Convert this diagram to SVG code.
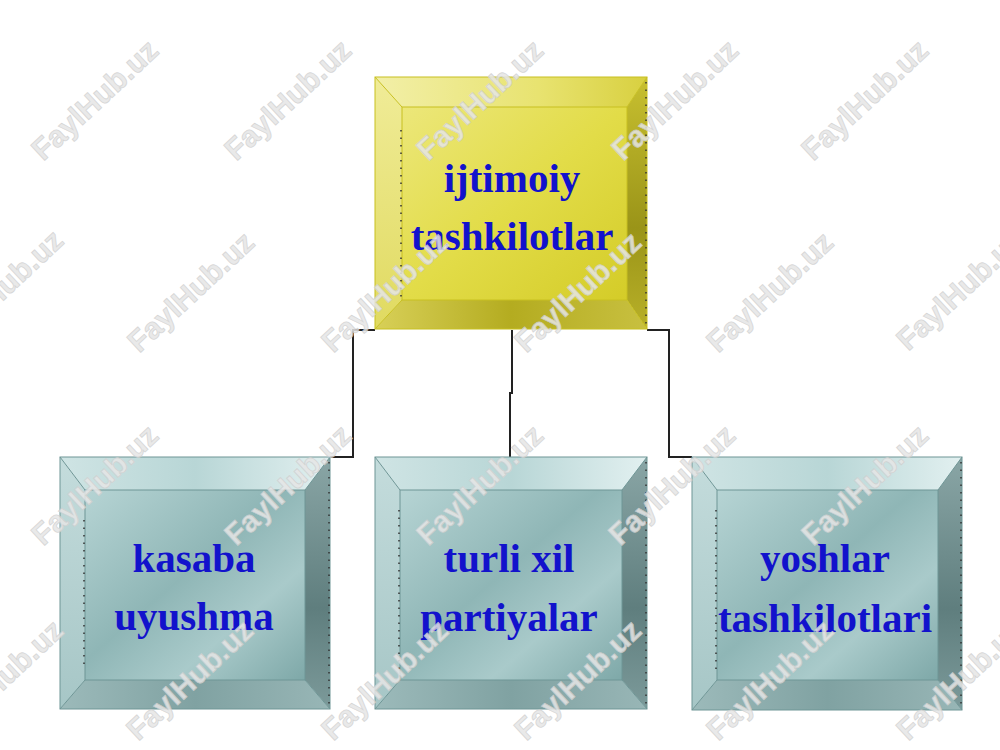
<svg xmlns="http://www.w3.org/2000/svg" width="1000" height="750" viewBox="0 0 1000 750">
<defs>
<linearGradient id="yFace" x1="0" y1="0" x2="1" y2="1">
<stop offset="0" stop-color="#ece77a"/><stop offset="0.5" stop-color="#e2dc48"/><stop offset="1" stop-color="#d4cc28"/>
</linearGradient>
<linearGradient id="yTop" x1="0" y1="0" x2="1" y2="0">
<stop offset="0" stop-color="#f2efa8"/><stop offset="0.6" stop-color="#e8e370"/><stop offset="1" stop-color="#d8d040"/>
</linearGradient>
<linearGradient id="yLeft" x1="0" y1="0" x2="0" y2="1">
<stop offset="0" stop-color="#f0ec98"/><stop offset="1" stop-color="#e0da60"/>
</linearGradient>
<linearGradient id="yRight" x1="0" y1="0" x2="0" y2="1">
<stop offset="0" stop-color="#c8c030"/><stop offset="0.6" stop-color="#9a9418"/><stop offset="1" stop-color="#b8b028"/>
</linearGradient>
<linearGradient id="yBottom" x1="0" y1="0" x2="1" y2="0">
<stop offset="0" stop-color="#d8d058"/><stop offset="0.5" stop-color="#b4ac20"/><stop offset="1" stop-color="#c8c040"/>
</linearGradient>
<linearGradient id="tFace" x1="0" y1="0" x2="1" y2="1">
<stop offset="0" stop-color="#b6d4d4"/><stop offset="0.45" stop-color="#8fb6b6"/><stop offset="0.7" stop-color="#a9caca"/><stop offset="1" stop-color="#7ea8a8"/>
</linearGradient>
<linearGradient id="tTop" x1="0" y1="0" x2="1" y2="0">
<stop offset="0" stop-color="#cfe4e4"/><stop offset="0.5" stop-color="#b8d6d6"/><stop offset="1" stop-color="#e2f0f0"/>
</linearGradient>
<linearGradient id="tLeft" x1="0" y1="0" x2="0" y2="1">
<stop offset="0" stop-color="#c4dcdc"/><stop offset="1" stop-color="#a6c6c6"/>
</linearGradient>
<linearGradient id="tRight" x1="0" y1="0" x2="0" y2="1">
<stop offset="0" stop-color="#8aa6a6"/><stop offset="0.6" stop-color="#5f7e7e"/><stop offset="1" stop-color="#7c9a9a"/>
</linearGradient>
<linearGradient id="tBottom" x1="0" y1="0" x2="1" y2="0">
<stop offset="0" stop-color="#9cbaba"/><stop offset="0.5" stop-color="#80a2a2"/><stop offset="1" stop-color="#98b6b6"/>
</linearGradient>
</defs>
<style>
.lbl{font-family:"Liberation Serif","Times New Roman",serif;font-weight:bold;font-size:41px;fill:#1212cc;text-anchor:middle}
.edgeY{stroke:#c8c020;stroke-width:1;fill:none}
.edgeT{stroke:#6f9696;stroke-width:1;fill:none}
.dots{stroke:#333;stroke-width:1.5;stroke-dasharray:1.5 6;fill:none}
.conn{stroke:#222;stroke-width:2;fill:none}
.wm{font-family:"Liberation Sans",Arial,sans-serif;font-weight:bold;font-size:30px;fill:#e6e6e6;stroke:#d0d0d0;stroke-width:0.8;text-anchor:middle;opacity:0.85}
</style>
<rect width="1000" height="750" fill="#ffffff"/>

<g id="connectors">
<polyline class="conn" points="375,330 353,330 353,457 330,457"/>
<polyline class="conn" points="512,330 512,393 510,393 510,457"/>
<polyline class="conn" points="647,330 669,330 669,457 692,457"/>
</g>

<g id="node-ijtimoiy">
<polygon points="375,77 647,77 627,107 402,107" fill="url(#yTop)"/>
<polygon points="375,77 402,107 402,300 375,329" fill="url(#yLeft)"/>
<polygon points="647,77 647,329 627,300 627,107" fill="url(#yRight)"/>
<polygon points="375,329 402,300 627,300 647,329" fill="url(#yBottom)"/>
<rect x="402" y="107" width="225" height="193" fill="url(#yFace)"/>
<rect class="edgeY" x="375" y="77" width="272" height="252"/>
<rect class="edgeY" x="402" y="107" width="225" height="193"/>
<path class="edgeY" d="M375,77 L402,107 M647,77 L627,107 M375,329 L402,300 M647,329 L627,300"/>
<line class="dots" x1="401" y1="130" x2="401" y2="300"/>
<line class="dots" x1="646" y1="82" x2="646" y2="325"/>
<text class="lbl" x="512" y="192">ijtimoiy</text>
<text class="lbl" x="512" y="250">tashkilotlar</text>
</g>

<g id="node-kasaba">
<polygon points="60,457 330,457 305,490 85,490" fill="url(#tTop)"/>
<polygon points="60,457 85,490 85,680 60,709" fill="url(#tLeft)"/>
<polygon points="330,457 330,709 305,680 305,490" fill="url(#tRight)"/>
<polygon points="60,709 85,680 305,680 330,709" fill="url(#tBottom)"/>
<rect x="85" y="490" width="220" height="190" fill="url(#tFace)"/>
<rect class="edgeT" x="60" y="457" width="270" height="252"/>
<rect class="edgeT" x="85" y="490" width="220" height="190"/>
<path class="edgeT" d="M60,457 L85,490 M330,457 L305,490 M60,709 L85,680 M330,709 L305,680"/>
<line class="dots" x1="84" y1="520" x2="84" y2="670"/>
<line class="dots" x1="329" y1="462" x2="329" y2="705"/>
<text class="lbl" x="194" y="572">kasaba</text>
<text class="lbl" x="194" y="630">uyushma</text>
</g>

<g id="node-turli">
<polygon points="375,457 647,457 622,490 400,490" fill="url(#tTop)"/>
<polygon points="375,457 400,490 400,680 375,709" fill="url(#tLeft)"/>
<polygon points="647,457 647,709 622,680 622,490" fill="url(#tRight)"/>
<polygon points="375,709 400,680 622,680 647,709" fill="url(#tBottom)"/>
<rect x="400" y="490" width="222" height="190" fill="url(#tFace)"/>
<rect class="edgeT" x="375" y="457" width="272" height="252"/>
<rect class="edgeT" x="400" y="490" width="222" height="190"/>
<path class="edgeT" d="M375,457 L400,490 M647,457 L622,490 M375,709 L400,680 M647,709 L622,680"/>
<line class="dots" x1="399" y1="510" x2="399" y2="670"/>
<line class="dots" x1="646" y1="462" x2="646" y2="705"/>
<text class="lbl" x="509" y="572">turli xil</text>
<text class="lbl" x="509" y="631">partiyalar</text>
</g>

<g id="node-yoshlar">
<polygon points="692,457 962,457 938,490 717,490" fill="url(#tTop)"/>
<polygon points="692,457 717,490 717,680 692,710" fill="url(#tLeft)"/>
<polygon points="962,457 962,710 938,680 938,490" fill="url(#tRight)"/>
<polygon points="692,710 717,680 938,680 962,710" fill="url(#tBottom)"/>
<rect x="717" y="490" width="221" height="190" fill="url(#tFace)"/>
<rect class="edgeT" x="692" y="457" width="270" height="253"/>
<rect class="edgeT" x="717" y="490" width="221" height="190"/>
<path class="edgeT" d="M692,457 L717,490 M962,457 L938,490 M692,710 L717,680 M962,710 L938,680"/>
<line class="dots" x1="716" y1="510" x2="716" y2="670"/>
<line class="dots" x1="961" y1="462" x2="961" y2="705"/>
<text class="lbl" x="825" y="572">yoshlar</text>
<text class="lbl" x="825" y="632">tashkilotlari</text>
</g>

<g id="watermarks">
<text class="wm" transform="translate(95,100) rotate(-43)" x="0" y="10">FaylHub.uz</text>
<text class="wm" transform="translate(288,100) rotate(-43)" x="0" y="10">FaylHub.uz</text>
<text class="wm" transform="translate(480,100) rotate(-43)" x="0" y="10">FaylHub.uz</text>
<text class="wm" transform="translate(675,100) rotate(-43)" x="0" y="10">FaylHub.uz</text>
<text class="wm" transform="translate(865,100) rotate(-43)" x="0" y="10">FaylHub.uz</text>
<text class="wm" transform="translate(0,290) rotate(-43)" x="0" y="10">FaylHub.uz</text>
<text class="wm" transform="translate(191,292) rotate(-43)" x="0" y="10">FaylHub.uz</text>
<text class="wm" transform="translate(385,292) rotate(-43)" x="0" y="10">FaylHub.uz</text>
<text class="wm" transform="translate(578,292) rotate(-43)" x="0" y="10">FaylHub.uz</text>
<text class="wm" transform="translate(770,292) rotate(-43)" x="0" y="10">FaylHub.uz</text>
<text class="wm" transform="translate(960,290) rotate(-43)" x="0" y="10">FaylHub.uz</text>
<text class="wm" transform="translate(95,485) rotate(-43)" x="0" y="10">FaylHub.uz</text>
<text class="wm" transform="translate(288,485) rotate(-43)" x="0" y="10">FaylHub.uz</text>
<text class="wm" transform="translate(480,485) rotate(-43)" x="0" y="10">FaylHub.uz</text>
<text class="wm" transform="translate(672,485) rotate(-43)" x="0" y="10">FaylHub.uz</text>
<text class="wm" transform="translate(865,485) rotate(-43)" x="0" y="10">FaylHub.uz</text>
<text class="wm" transform="translate(0,680) rotate(-43)" x="0" y="10">FaylHub.uz</text>
<text class="wm" transform="translate(190,680) rotate(-43)" x="0" y="10">FaylHub.uz</text>
<text class="wm" transform="translate(385,680) rotate(-43)" x="0" y="10">FaylHub.uz</text>
<text class="wm" transform="translate(578,680) rotate(-43)" x="0" y="10">FaylHub.uz</text>
<text class="wm" transform="translate(770,680) rotate(-43)" x="0" y="10">FaylHub.uz</text>
<text class="wm" transform="translate(960,680) rotate(-43)" x="0" y="10">FaylHub.uz</text>
</g>
</svg>
